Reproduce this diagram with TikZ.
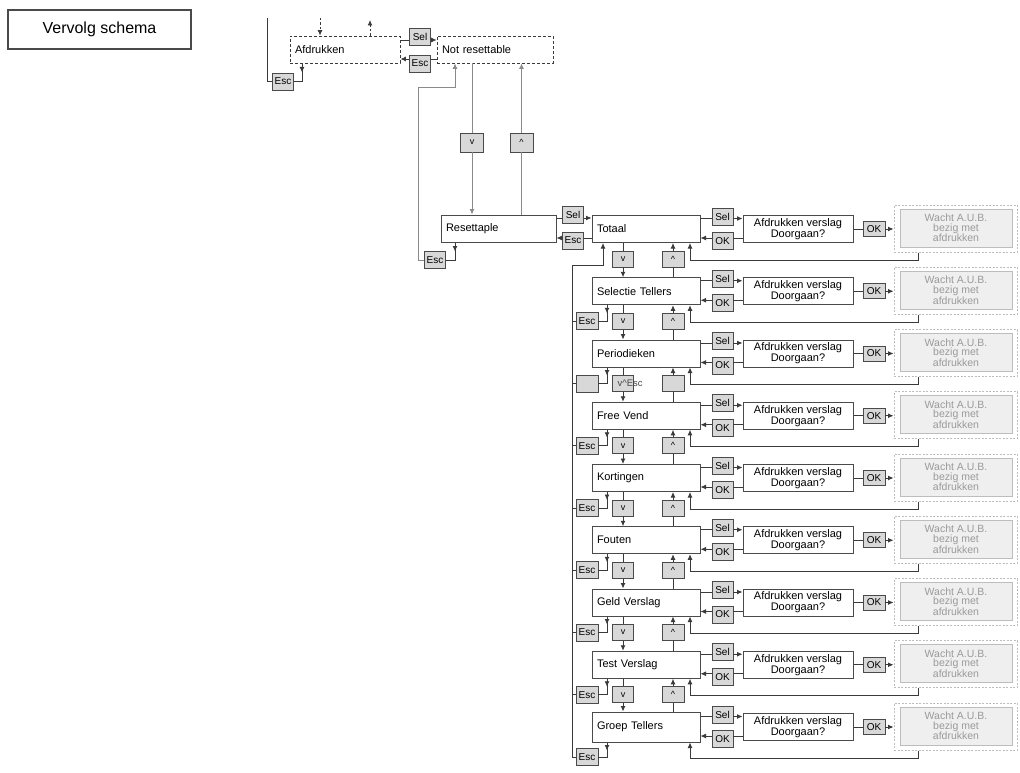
\documentclass[tikz,border=0pt]{standalone}
\usepackage{fontspec}
\setmainfont{Liberation Sans}
\usetikzlibrary{arrows.meta,calc}
\definecolor{ln}{HTML}{3A3A3A}
\definecolor{lnl}{HTML}{8A8A8A}
\definecolor{bd}{HTML}{4A4A4A}
\definecolor{kf}{HTML}{D8D8D8}
\definecolor{wf}{HTML}{EFEFEF}
\definecolor{wb}{HTML}{BDBDBD}
\definecolor{wt}{HTML}{9A9A9A}
\tikzset{
  mbox/.style={draw=bd, line width=1pt, fill=white, minimum height=27pt, inner xsep=5pt, inner ysep=0pt, align=left, font=\fontsize{11}{12}\selectfont},
  dbox/.style={mbox, draw=ln, line width=0.8pt, dash pattern=on 3pt off 2pt},
  key/.style={draw=bd, line width=0.9pt, fill=kf, minimum width=21pt, minimum height=17pt, inner sep=0pt, font=\fontsize{10}{10}\selectfont},
  avbox/.style={draw=bd, line width=1pt, fill=white, minimum width=110pt, minimum height=27pt, inner sep=0pt, align=center, font=\fontsize{11}{11}\selectfont},
  wout/.style={draw=wb, dash pattern=on 2pt off 1.5pt, line width=1pt, minimum width=123pt, minimum height=47pt, inner sep=0pt},
  win/.style={draw=wb, fill=wf, line width=0.8pt, minimum width=112pt, minimum height=38pt, inner sep=0pt, align=center, text=wt, font=\fontsize{10.5}{9.6}\selectfont},
  ln/.style={draw=ln, line width=0.9pt},
  arr/.style={ln, -{Latex[length=5.5pt,width=5pt]}},
}
\begin{document}
\begin{tikzpicture}[x=1pt,y=-1pt]
\useasboundingbox (0,0) rectangle (1020,773);
\node[draw=bd, line width=1.2pt, minimum width=183pt, minimum height=39pt, inner sep=0pt, font=\fontsize{16}{16}\selectfont] (vs) at (99.5,29.5) {Vervolg schema};

% ---------- top part ----------
\node[dbox, text width=100pt] (afd) at (345,49.5) {Afdrukken};
\node[dbox, text width=106pt] (nr) at (495,49.5) {Not resettable};
\node[key] (ksel0) at (420,36.5) {Sel};
\node[key] (kesc0) at (420,63.5) {Esc};
\draw[ln] (afd.east |- 0,40) -- (ksel0.west |- 0,40);
\draw[arr] (ksel0.east |- 0,40) -- (nr.west |- 0,40);
\draw[ln] (nr.west |- 0,59) -- (kesc0.east |- 0,59);
\draw[arr] (kesc0.west |- 0,59) -- (afd.east |- 0,59);

\coordinate (t1) at (320,18);
\coordinate (t2) at (370,20);
\draw[arr, dash pattern=on 2.5pt off 2pt] (t1) -- (t1 |- afd.north);
\draw[arr, dash pattern=on 2.5pt off 2pt] (t2 |- afd.north) -- (t2);

\coordinate (tl) at (267,18);
\node[key] (kesc1) at (283,81.5) {Esc};
\draw[ln] (tl) -- (267,81.5) -- (kesc1.west);
\draw[ln] (kesc1.east) -- (302,81.5) -- (302,0 |- afd.south);
\draw[arr] (302,0 |- afd.south) -- ++(0,9);

\node[mbox, text width=105pt] (res) at (498.5,228.5) {Resettaple};
\node[key, minimum width=23pt, minimum height=19pt, font=\fontsize{9}{9}\selectfont] (kv0) at (472,142.5) {v};
\node[key, minimum width=23pt, minimum height=19pt, font=\fontsize{9}{9}\selectfont] (ku0) at (521.5,142.5) {\textasciicircum};
\draw[lnl, line width=0.9pt] (472,0 |- nr.south) -- (kv0.north);
\draw[arr, draw=lnl] (kv0.south) -- (472,0 |- res.north);
\draw[lnl, line width=0.9pt] (521.5,0 |- res.north) -- (ku0.south);
\draw[arr, draw=lnl] (ku0.north) -- (521.5,0 |- nr.south);

\node[key] (kesc2) at (435,260) {Esc};
\draw[arr, draw=lnl] (kesc2.west) -- (418,260) -- (418,87) -- (455,87) -- (455,0 |- nr.south);
\draw[ln] (kesc2.east) -- (455,260) -- (455,0 |- res.south);
\draw[arr] (455,0 |- res.south) -- ++(0,9);

% ---------- rows ----------
\foreach \i/\t in {0/Totaal,1/Selectie Tellers,2/Periodieken,3/Free Vend,4/Kortingen,5/Fouten,6/Geld Verslag,7/Test Verslag,8/Groep Tellers}{
  \pgfmathsetmacro\c{229+62.25*\i}
  \pgfmathsetmacro\h{\i==8 ? 30 : 27}
  \node[mbox, text width=98pt, minimum height=\h pt] (m\i) at (646,\c) {\t};
  \node[key] (s\i) at (722.5,\c-12.5) {Sel};
  \node[key] (o\i) at (722.5,\c+12) {OK};
  \node[avbox] (a\i) at (798,\c) {Afdrukken verslag\\Doorgaan?};
  \node[key, minimum width=22pt, minimum height=15pt] (k\i) at (874,\c) {OK};
  \node[wout] (w\i) at (955.5,\c-0.5) {};
  \node[win] (wi\i) at (956,\c-1) {Wacht A.U.B.\\bezig met\\afdrukken};
  \draw[ln] (m\i.east |- 0,\c-10.5) -- (s\i.west |- 0,\c-10.5);
  \draw[arr] (s\i.east |- 0,\c-10.5) -- (a\i.west |- 0,\c-10.5);
  \draw[ln] (a\i.west |- 0,\c+9) -- (o\i.east |- 0,\c+9);
  \draw[arr] (o\i.west |- 0,\c+9) -- (m\i.east |- 0,\c+9);
  \draw[ln] (a\i.east) -- (k\i.west);
  \draw[arr] (k\i.east) -- (w\i.west |- k\i.east);
  \draw[arr] (918,0 |- w\i.south) -- (918,\c+31) -- (690,\c+31) -- (690,0 |- m\i.south);
}

% up/down keys between rows
\foreach \i in {0,...,7}{
  \pgfmathsetmacro\c{229+62.25*\i}
  \pgfmathtruncatemacro\j{\i+1}
  \ifnum\i=2
    \node[key, minimum height=16pt] (v\i) at (623,\c+30) {};
    \node[key, minimum width=22pt, minimum height=16pt] (u\i) at (673,\c+30) {};
    \node[anchor=west, inner sep=0pt, font=\fontsize{9.5}{9.5}\selectfont, text=bd] (vt\i) at (617.5,\c+30) {v\textasciicircum Esc};
  \else
    \node[key, minimum height=16pt, font=\fontsize{9}{9}\selectfont] (v\i) at (623,\c+30) {v};
    \node[key, minimum width=22pt, minimum height=16pt, font=\fontsize{9}{9}\selectfont] (u\i) at (673,\c+30) {\textasciicircum};
  \fi
  \draw[ln] (623,0 |- m\i.south) -- (v\i.north);
  \draw[arr] (v\i.south) -- (623,0 |- m\j.north);
  \draw[ln] (673,0 |- m\j.north) -- (u\i.south);
  \draw[arr] (u\i.north) -- (673,0 |- m\i.south);
}

% Esc keys on the left
\foreach \i in {1,...,8}{
  \pgfmathsetmacro\c{229+62.25*\i}
  \ifnum\i=2
    \node[key, minimum width=22pt] (e\i) at (587,\c+30) {};
  \else
    \node[key, minimum width=22pt] (e\i) at (587,\c+30) {Esc};
  \fi
  \draw[ln] (607,0 |- m\i.south) -- (607,\c+30) -- (e\i.east);
  \draw[arr] (607,0 |- m\i.south) -- ++(0,8);
  \draw[ln] (e\i.west) -- (572,\c+30);
}
\draw[arr] (e8.west) -- (572,0 |- e8.west) -- (572,265) -- (603,265) -- (603,0 |- m0.south);

% Resettaple <-> Totaal
\node[key] (ksel1) at (573,215) {Sel};
\node[key] (kesc3) at (573,240.5) {Esc};
\draw[ln] (res.east |- 0,218) -- (ksel1.west |- 0,218);
\draw[arr] (ksel1.east |- 0,218) -- (m0.west |- 0,218);
\draw[ln] (m0.west |- 0,238) -- (kesc3.east |- 0,238);
\draw[arr] (kesc3.west |- 0,238) -- (res.east |- 0,238);
\end{tikzpicture}
\end{document}
